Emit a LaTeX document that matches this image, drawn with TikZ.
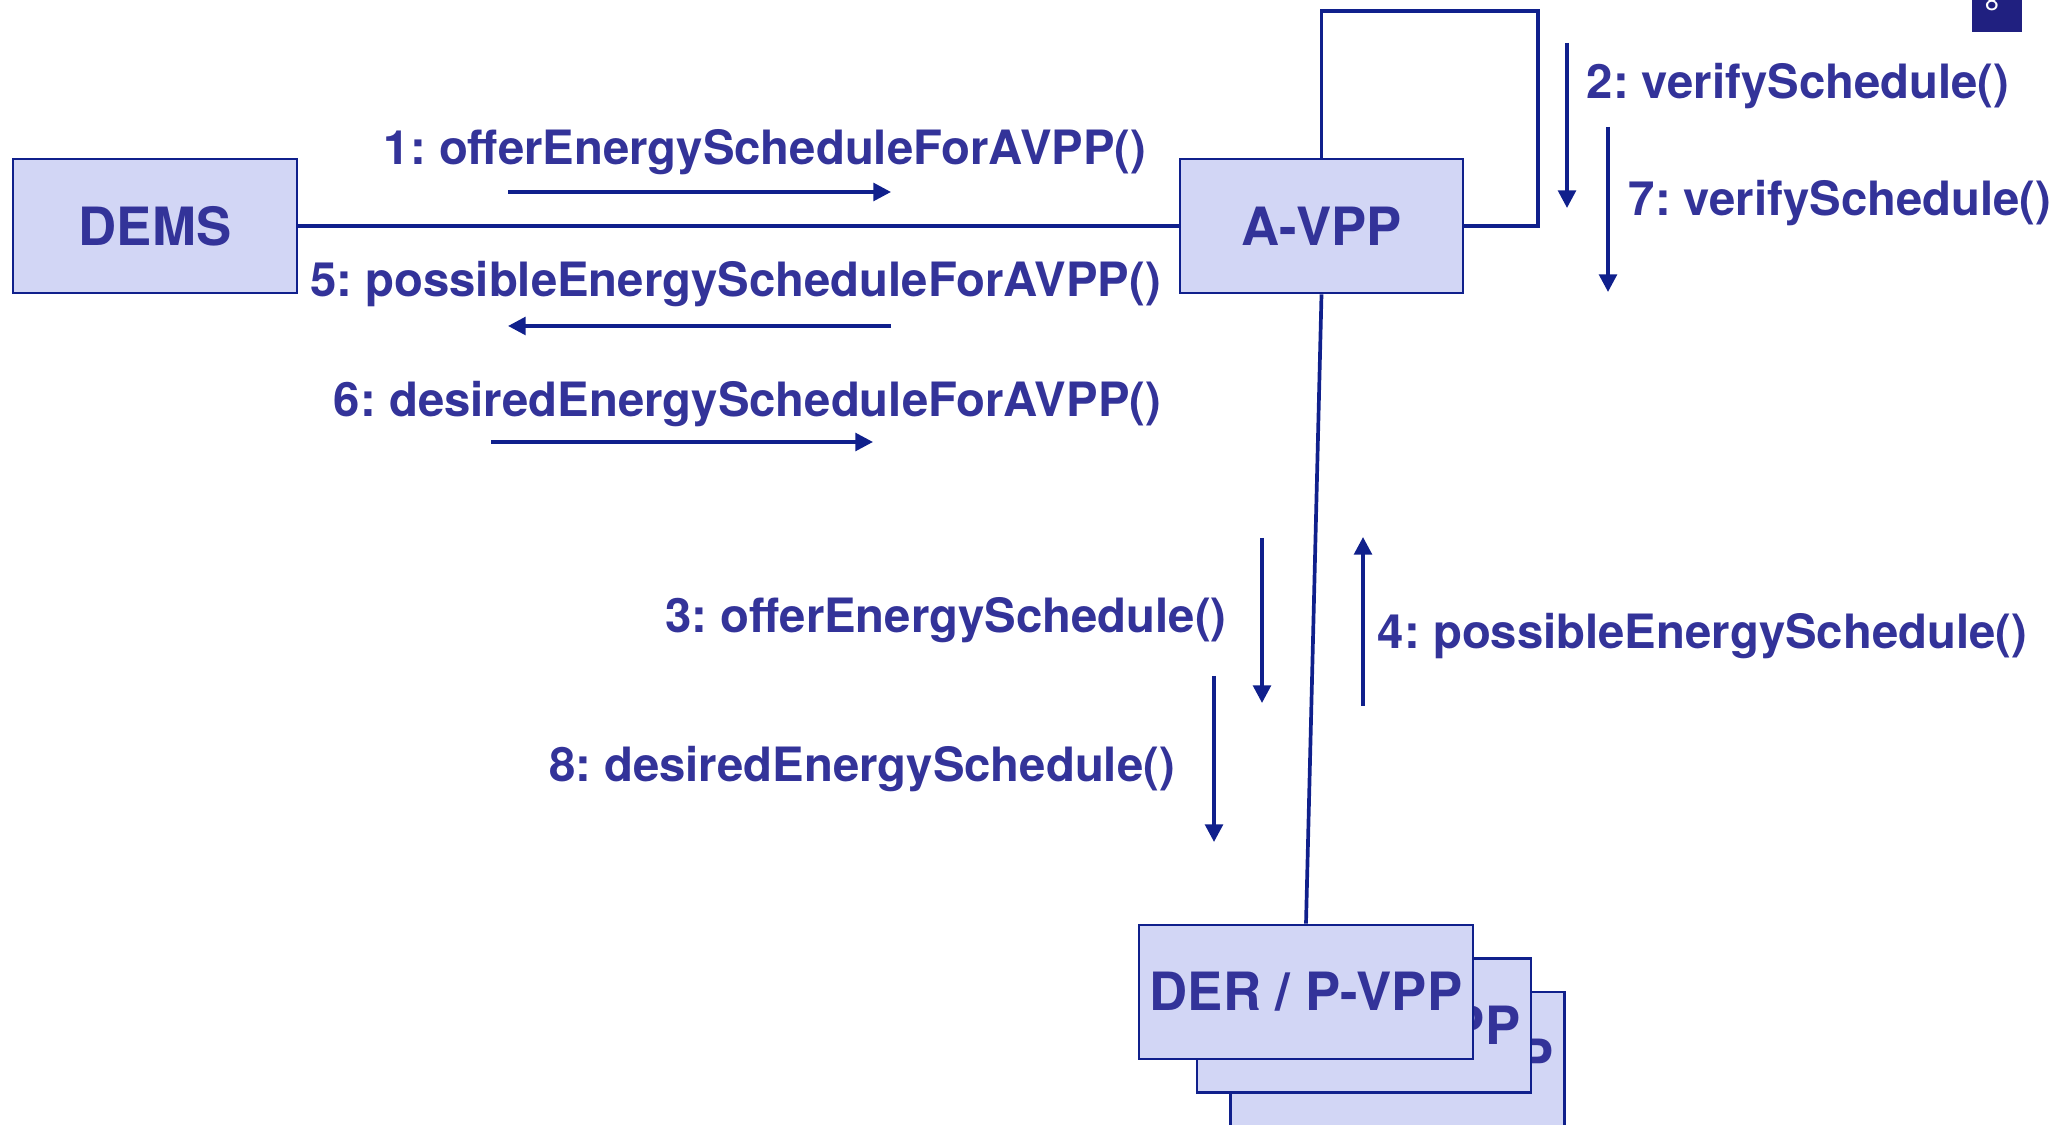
\documentclass[tikz,border=0pt]{standalone}
\usepackage{fontspec}
\setmainfont{TeX Gyre Heros}
\usetikzlibrary{arrows.meta}
\frenchspacing
\definecolor{umlline}{RGB}{16,32,140}
\definecolor{umltext}{RGB}{51,51,153}
\definecolor{umlfill}{RGB}{210,214,245}
\definecolor{umlpage}{RGB}{32,32,128}
\tikzset{
  obj/.style={draw=umlline,line width=0.75pt,fill=umlfill,text=umltext,
    font=\fontsize{15}{17}\selectfont\bfseries,inner sep=0pt,minimum height=1.34cm},
  link/.style={umlline,line width=1.05pt},
  msg/.style={umlline,line width=1.05pt,-{Triangle[length=5pt,width=5pt]}},
  msglabel/.style={text=umltext,font=\fontsize{13.45}{16}\selectfont\bfseries,
    anchor=base,inner sep=0pt}
}
\begin{document}
\begin{tikzpicture}[x=0.01cm,y=-0.01cm]
\useasboundingbox (0,0) rectangle (2072,1125);
\clip (0,0) rectangle (2072,1125);
\fill[umlpage] (1972,-5) rectangle (2022,32);
\node[text=white,font=\fontsize{7}{8}\selectfont] (page) at (1992,2) {8};
\node[obj,minimum width=2.84cm] (dems) at (155,226) {DEMS};
\node[obj,minimum width=2.83cm] (avpp) at (1321.5,226) {A-VPP};
\node[obj,minimum width=3.34cm] (der3) at (1397.5,1059) {DER / P-VPP};
\node[obj,minimum width=3.34cm] (der2) at (1364,1025.5) {DER / P-VPP};
\node[obj,minimum width=3.34cm] (der) at (1306,992) {DER / P-VPP};
\coordinate (loop) at (1538,11);
\draw[link] (dems.east) -- (avpp.west);
\draw[link] (avpp.south) -- (der.north);
\draw[link] (avpp.north) |- (loop) |- (avpp.east);
\foreach \n/\xa/\ya/\xb/\yb in {1/508/192/891/192, 5/891/326/508/326, 6/491/442/873/442,
  2/1567/43/1567/208, 7/1608/127/1608/292, 3/1262/538/1262/703,
  4/1363/706/1363/537, 8/1214/676/1214/842}
{
  \coordinate (m\n a) at (\xa,\ya);
  \coordinate (m\n b) at (\xb,\yb);
  \draw[msg] (m\n a) -- (m\n b);
}
\foreach \n/\x/\y/\txt in {1/765/165/offerEnergyScheduleForAVPP(),
  5/735.5/297/possibleEnergyScheduleForAVPP(), 6/747.5/417/desiredEnergyScheduleForAVPP(),
  2/1798/99/verifySchedule(), 7/1840/216/verifySchedule(),
  3/946/633/offerEnergySchedule(), 4/1702.5/649/possibleEnergySchedule(),
  8/862/782/desiredEnergySchedule()}
  \node[msglabel] (l\n) at (\x,\y) {\n: \txt};
\end{tikzpicture}
\end{document}
